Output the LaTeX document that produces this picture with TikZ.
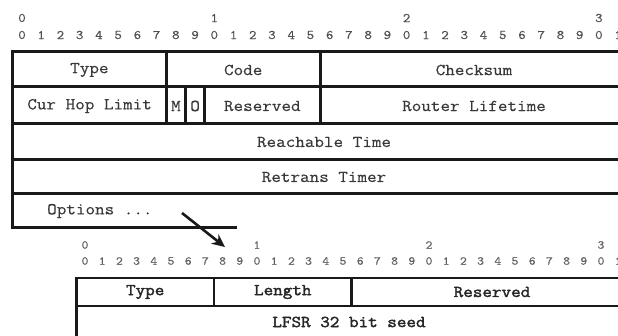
\documentclass[tikz,border=0pt]{standalone}
\usepackage{fontspec}
\newfontfamily\mono{Latin Modern Mono}[FakeStretch=1.12, FakeBold=0.4]
\newfontfamily\monob{Latin Modern Mono}[FakeStretch=1.12, FakeBold=2.2]
\usetikzlibrary{arrows.meta}
\definecolor{txt}{HTML}{383838}
\definecolor{dig}{HTML}{505050}
\definecolor{dig2}{HTML}{606060}
\tikzset{
  cell/.style={inner sep=0pt, text=txt, font=\mono\fontsize{16.6}{17}\selectfont},
  bcell/.style={inner sep=0pt, text=black!85, font=\monob\fontsize{16.6}{17}\selectfont},
  digit/.style={inner sep=0pt, text=dig, font=\mono\fontsize{13}{13}\selectfont},
  bdigit/.style={inner sep=0pt, text=dig2, font=\mono\fontsize{12}{12}\selectfont},
  frame/.style={line width=3pt, draw=black!90},
  bframe/.style={line width=2.6pt, draw=black!90},
}
\begin{document}
\begin{tikzpicture}[x=1pt,y=-1pt]
\useasboundingbox (0,0) rectangle (618,336);
\clip (0,0) rectangle (618,336);
% ---------- top bit ruler ----------
\foreach \t in {0,1,2,3}{
  \node[digit] (tt\t) at ({22+19.23*10*\t},18) {\t};
}
\foreach \i in {0,...,31}{
  \pgfmathtruncatemacro\d{mod(\i,10)}
  \node[digit] (tu\i) at ({22+19.23*\i},35) {\d};
}
% ---------- top table ----------
\draw[frame] (12.4,52) rectangle (627.8,194);
\draw[frame] (12.4,87) -- (627.8,87);
\draw[frame] (12.4,124) -- (627.8,124);
\draw[frame] (12.4,160) -- (627.8,160);
\draw[frame] (166.3,52) -- (166.3,124);
\draw[frame] (320,52) -- (320,124);
\draw[frame] (185.5,87) -- (185.5,124);
\draw[frame] (204.7,87) -- (204.7,124);
\draw[frame] (12.4,192) -- (12.4,228) -- (237,228);
\node[cell] (type) at (89.4,70) {Type};
\node[cell] (code) at (243.2,70) {Code};
\node[cell] (cks) at (474,70) {Checksum};
\node[cell] (chl) at (89.6,106) {Cur Hop Limit};
\node[cell] (m) at (175.9,106) {M};
\node[cell] (o) at (195.1,106) {O};
\node[cell] (res) at (262.3,106) {Reserved};
\node[cell] (rl) at (474,106) {Router Lifetime};
\node[cell] (rt) at (324,142) {Reachable Time};
\node[cell] (rtt) at (324,177) {Retrans Timer};
\node[cell, anchor=west] (opt) at (47,211) {Options ...};
% ---------- arrow ----------
\coordinate (as) at (182,213);
\coordinate (ae) at (225,247);
\draw[line width=2.6pt, black!90, -{Stealth[length=13pt,width=12pt]}] (as) -- (ae);
% ---------- bottom bit ruler ----------
\foreach \t in {0,1,2,3}{
  \node[bdigit] (bt\t) at ({85+17.2*10*\t},245) {\t};
}
\foreach \i in {0,...,31}{
  \pgfmathtruncatemacro\d{mod(\i,10)}
  \node[bdigit] (bu\i) at ({85+17.2*\i},261) {\d};
}
% ---------- bottom table ----------
\draw[bframe] (76.4,278) rectangle (627,345);
\draw[bframe] (76.4,306) -- (627,306);
\draw[bframe] (214,278) -- (214,306);
\draw[bframe] (351.6,278) -- (351.6,306);
\node[bcell] (btype) at (145.2,292) {Type};
\node[bcell] (blen) at (282.8,292) {Length};
\node[bcell] (bres) at (492,292) {Reserved};
\node[bcell] (lfsr) at (349,322) {LFSR 32 bit seed};
\end{tikzpicture}
\end{document}
